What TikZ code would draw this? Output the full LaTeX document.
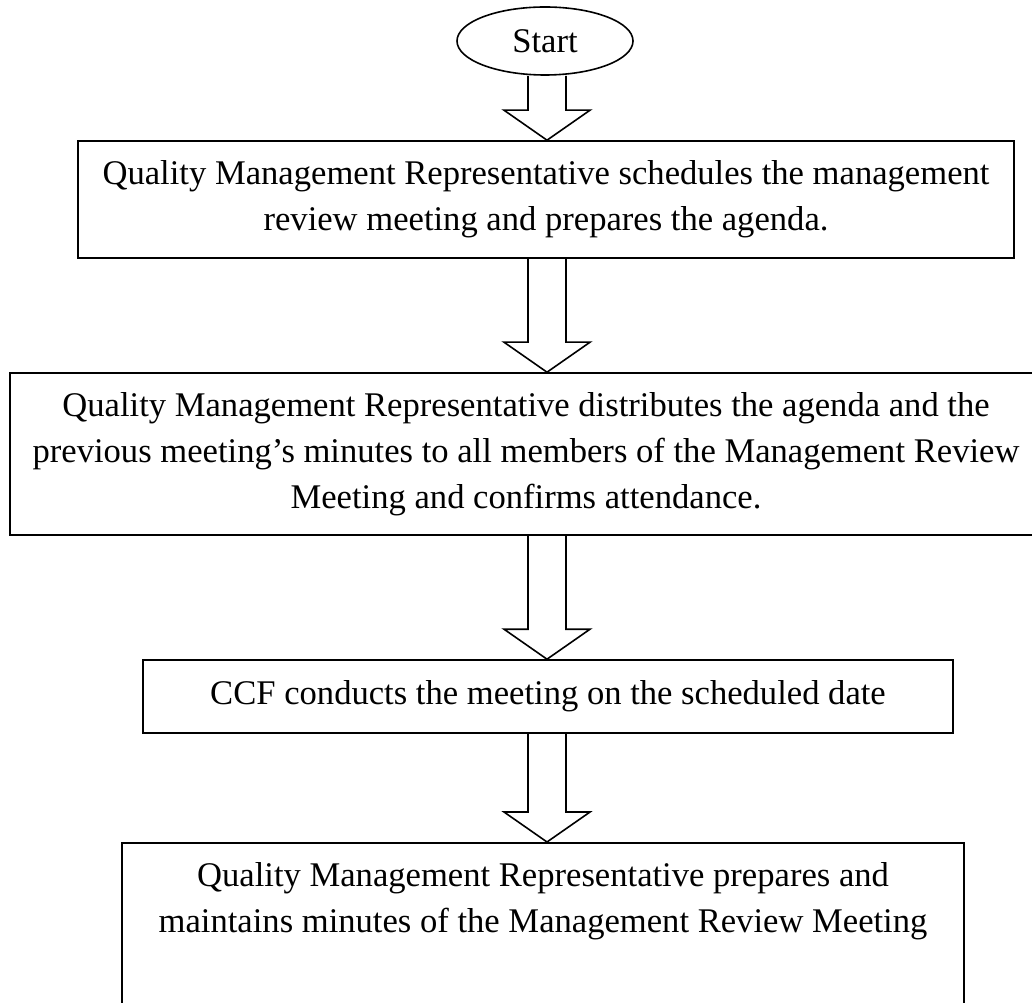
\documentclass[tikz,border=0pt]{standalone}
\usepackage{fontspec}
\setmainfont{Liberation Serif}
\usetikzlibrary{calc,shapes.geometric}
\newcommand\blockarr[2]{%
  \draw[barrow] let \p1=(#1.south), \p2=(#2.north) in
    (528pt,\y1) -- (528pt,\y2+30pt) -- (504pt,\y2+30pt) -- (547pt,\y2)
    -- (590pt,\y2+30pt) -- (566pt,\y2+30pt) -- (566pt,\y1);}
\begin{document}
\begin{tikzpicture}[x=1pt,y=1pt,
  box/.style={draw, line width=1.6pt, inner sep=0pt, align=center,
    font=\fontsize{34.6pt}{46pt}\selectfont},
  startshape/.style={draw, ellipse, line width=1.6pt, inner sep=0pt,
    minimum width=176pt, minimum height=68pt,
    font=\fontsize{34.6pt}{46pt}\selectfont},
  barrow/.style={line width=1.6pt, line join=miter}]
\useasboundingbox (0,0) rectangle (1032,1002);
\clip (0,0) rectangle (1032,1002);
\fill[white] (0,0) rectangle (1032,1002);

\node[startshape] (s) at (545,961) {Start};

\node[box, minimum width=936pt, minimum height=117pt] (b1) at (546,802.5)
  {Quality Management Representative schedules the management\\
   review meeting and prepares the agenda.};

\node[box, minimum width=1032pt, minimum height=162pt] (b2) at (526,548)
  {Quality Management Representative distributes the agenda and the\\
   previous meeting's minutes to all members of the Management Review\\
   Meeting and confirms attendance.};

\node[box, minimum width=810pt, minimum height=73pt] (b3) at (548,305.5)
  {CCF conducts the meeting on the scheduled date};

\node[box, anchor=north] (b4) at (543,160)
  {\parbox[c][200pt][t]{842pt}{\centering\vspace*{20pt}%
   Quality Management Representative prepares and\\
   maintains minutes of the Management Review Meeting}};

\blockarr{s}{b1}
\blockarr{b1}{b2}
\blockarr{b2}{b3}
\blockarr{b3}{b4}
\end{tikzpicture}
\end{document}
